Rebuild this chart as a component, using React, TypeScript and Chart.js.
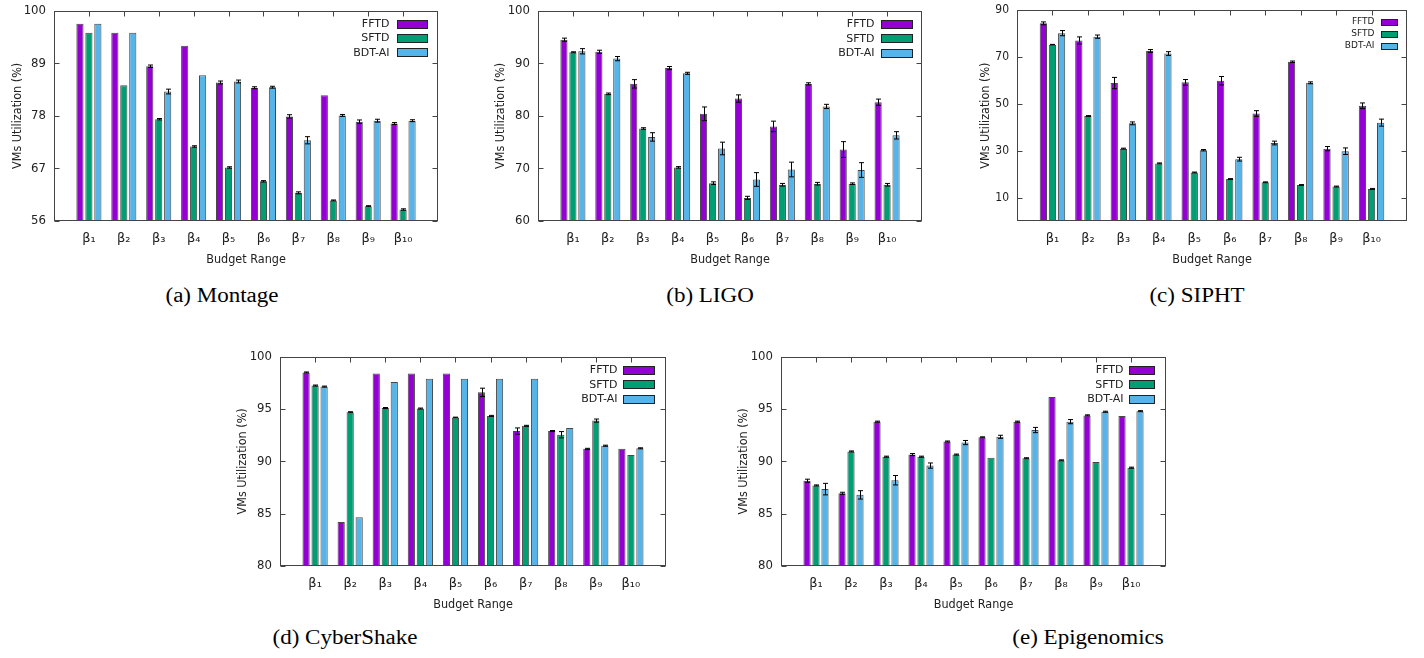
import { useEffect, useRef } from "react";
import { Chart, registerables } from "chart.js";

Chart.register(...registerables);

// ---------- data ----------
const budgetLabels = ["β₁", "β₂", "β₃", "β₄", "β₅", "β₆", "β₇", "β₈", "β₉", "β₁₀"];
const seriesNames = ["FFTD", "SFTD", "BDT-AI"];
const seriesColors = ["#9400D3", "#009E73", "#56B4E9"];

const montageFFTD = [97.3, 95.4, 88.4, 92.7, 85.0, 83.9, 77.9, 82.3, 76.8, 76.4];
const montageFFTDErr = [0, 0, 0.25, 0, 0.3, 0.2, 0.35, 0, 0.35, 0.2];
const montageSFTD = [95.4, 84.4, 77.3, 71.6, 67.2, 64.3, 61.9, 60.3, 59.1, 58.4];
const montageSFTDErr = [0, 0, 0.15, 0.15, 0.15, 0.15, 0.2, 0.1, 0.1, 0.15];
const montageBDT = [97.3, 95.4, 83.1, 86.5, 85.2, 84.0, 72.9, 78.1, 77.0, 77.0];
const montageBDTErr = [0, 0, 0.5, 0, 0.3, 0.2, 0.75, 0.2, 0.3, 0.2];
const montageYTicks = [56, 67, 78, 89, 100];

const ligoFFTD = [94.5, 92.2, 86.1, 89.1, 80.4, 83.3, 78.0, 86.1, 73.6, 82.6];
const ligoFFTDErr = [0.3, 0.3, 0.8, 0.3, 1.3, 0.7, 1.0, 0.2, 1.5, 0.6];
const ligoSFTD = [92.1, 84.2, 77.6, 70.2, 67.2, 64.4, 66.9, 67.1, 67.1, 66.9];
const ligoSFTDErr = [0.1, 0.15, 0.15, 0.15, 0.25, 0.3, 0.25, 0.25, 0.15, 0.25];
const ligoBDT = [92.3, 90.9, 76.0, 88.1, 73.8, 67.9, 69.8, 81.8, 69.7, 76.3];
const ligoBDTErr = [0.5, 0.4, 0.8, 0.2, 1.2, 1.3, 1.4, 0.4, 1.4, 0.7];
const ligoYTicks = [60, 70, 80, 90, 100];

const siphtFFTD = [84.4, 77.1, 58.9, 72.6, 59.2, 59.9, 45.9, 68.0, 30.9, 49.2];
const siphtFFTDErr = [0.6, 1.5, 2.4, 0.6, 1.2, 1.8, 1.2, 0.3, 0.9, 1.2];
const siphtSFTD = [75.3, 44.8, 30.9, 24.6, 20.7, 17.9, 16.5, 15.4, 14.7, 13.7];
const siphtSFTDErr = [0.1, 0.2, 0.2, 0.2, 0.2, 0.2, 0.2, 0.15, 0.2, 0.2];
const siphtBDT = [80.2, 78.7, 41.7, 71.5, 30.2, 26.4, 33.3, 59.0, 29.8, 42.0];
const siphtBDTErr = [1.1, 0.7, 0.6, 0.8, 0.3, 0.8, 0.8, 0.4, 1.4, 1.5];
const siphtYTicks = [10, 30, 50, 70, 90];

const cyberFFTD = [98.5, 84.2, 98.4, 98.4, 98.4, 96.6, 92.9, 92.9, 91.2, 91.2];
const cyberFFTDErr = [0.05, 0, 0, 0, 0, 0.4, 0.3, 0.05, 0.05, 0];
const cyberSFTD = [97.25, 94.7, 95.1, 95.05, 94.2, 94.35, 93.4, 92.55, 93.9, 90.6];
const cyberSFTDErr = [0.05, 0.05, 0.05, 0.05, 0.03, 0.05, 0.05, 0.3, 0.15, 0];
const cyberBDT = [97.15, 84.65, 97.6, 97.9, 97.9, 97.9, 97.9, 93.2, 91.5, 91.25];
const cyberBDTErr = [0.05, 0, 0, 0, 0, 0, 0, 0, 0.05, 0.05];
const cyberYTicks = [80, 85, 90, 95, 100];

const epiFFTD = [88.15, 86.95, 93.8, 90.65, 91.9, 92.3, 93.8, 96.15, 94.4, 94.35];
const epiFFTDErr = [0.15, 0.1, 0.05, 0.1, 0.05, 0.05, 0.05, 0, 0.05, 0];
const epiSFTD = [87.7, 90.95, 90.45, 90.45, 90.65, 90.35, 90.3, 90.1, 89.95, 89.4];
const epiSFTDErr = [0.05, 0.05, 0.05, 0.05, 0.05, 0, 0.05, 0.05, 0, 0.05];
const epiBDT = [87.35, 86.8, 88.2, 89.6, 91.8, 92.35, 93.0, 93.8, 94.75, 94.8];
const epiBDTErr = [0.55, 0.4, 0.45, 0.25, 0.2, 0.15, 0.25, 0.2, 0.05, 0.05];
const epiYTicks = [80, 85, 90, 95, 100];

const xTitle = "Budget Range";
const yTitle = "VMs Utilization (%)";

// ---------- layout ----------
type LegendStyle = { font: number; offset: number; rowH: number; sw: number; sh: number; right: number; gap: number };
type Panel = {
  caption: string;
  capX: number;
  capTop: number;
  L: number; T: number; R: number; B: number;
  yMin: number; yMax: number; yTicks: number[];
  values: number[][];
  errors: number[][];
  yTitleOff: number;
  yTickSize: number;
  legend: LegendStyle;
};

const panels: Panel[] = [
  {
    caption: "(a) Montage", capX: 222, capTop: 285,
    L: 54, T: 7, R: 438, B: 221, yMin: 56, yMax: 100, yTicks: montageYTicks,
    values: [montageFFTD, montageSFTD, montageBDT], errors: [montageFFTDErr, montageSFTDErr, montageBDTErr],
    yTitleOff: 36, yTickSize: 13, legend: { font: 11, offset: 13, rowH: 14.3, sw: 30, sh: 8, right: 11, gap: 8 },
  },
  {
    caption: "(b) LIGO", capX: 710, capTop: 285,
    L: 538, T: 7, R: 922, B: 221, yMin: 60, yMax: 100, yTicks: ligoYTicks,
    values: [ligoFFTD, ligoSFTD, ligoBDT], errors: [ligoFFTDErr, ligoSFTDErr, ligoBDTErr],
    yTitleOff: 37, yTickSize: 13, legend: { font: 11, offset: 13, rowH: 14.5, sw: 31, sh: 8, right: 10, gap: 7 },
  },
  {
    caption: "(c) SIPHT", capX: 1197, capTop: 285,
    L: 1017, T: 7, R: 1407, B: 221, yMin: 0, yMax: 90, yTicks: siphtYTicks,
    values: [siphtFFTD, siphtSFTD, siphtBDT], errors: [siphtFFTDErr, siphtSFTDErr, siphtBDTErr],
    yTitleOff: 31, yTickSize: 12, legend: { font: 9, offset: 11.3, rowH: 12, sw: 16, sh: 6, right: 10, gap: 7 },
  },
  {
    caption: "(d) CyberShake", capX: 345, capTop: 627,
    L: 280, T: 353, R: 666, B: 566, yMin: 80, yMax: 100, yTicks: cyberYTicks,
    values: [cyberFFTD, cyberSFTD, cyberBDT], errors: [cyberFFTDErr, cyberSFTDErr, cyberBDTErr],
    yTitleOff: 37.5, yTickSize: 13, legend: { font: 11, offset: 12.7, rowH: 14.7, sw: 31, sh: 8, right: 12, gap: 6 },
  },
  {
    caption: "(e) Epigenomics", capX: 1088, capTop: 627,
    L: 781, T: 353, R: 1166, B: 566, yMin: 80, yMax: 100, yTicks: epiYTicks,
    values: [epiFFTD, epiSFTD, epiBDT], errors: [epiFFTDErr, epiSFTDErr, epiBDTErr],
    yTitleOff: 37, yTickSize: 13, legend: { font: 11, offset: 12.7, rowH: 14.7, sw: 25, sh: 8, right: 12, gap: 6 },
  },
];

const AX = 60; // y axis box width
const AH = 47; // x axis box height
const PT = 12; // top padding
const PR = 12; // right padding

const LABEL_FONT = '"DejaVu Sans Condensed", "DejaVu Sans", sans-serif';
const TICK_FONT = '"DejaVu Sans Condensed", "DejaVu Sans", sans-serif';
const XTICK_FONT = '"DejaVu Sans", sans-serif';
const LEGEND_FONT = '"DejaVu Sans", sans-serif';
const TEXT = "#222";
const FRAME = "#444";

function ChartPanel({ p }: { p: Panel }) {
  const ref = useRef<HTMLCanvasElement | null>(null);
  const w = AX + (p.R - p.L) + PR;
  const h = PT + (p.B - p.T) + AH;

  useEffect(() => {
    const canvas = ref.current;
    if (!canvas) return;

    const errorPlugin = {
      id: "errbars",
      afterDatasetsDraw(chart: any) {
        const { ctx } = chart;
        const ys = chart.scales.y;
        ctx.save();
        ctx.strokeStyle = "#000";
        ctx.lineWidth = 1;
        chart.data.datasets.forEach((ds: any, di: number) => {
          const meta = chart.getDatasetMeta(di);
          meta.data.forEach((bar: any, j: number) => {
            const e = ds.errors[j];
            if (!e) return;
            const v = ds.data[j].y;
            const x = Math.round(bar.x) + 0.5;
            const yt = ys.getPixelForValue(v + e);
            const yb = ys.getPixelForValue(v - e);
            ctx.beginPath();
            ctx.moveTo(x, yt);
            ctx.lineTo(x, yb);
            ctx.moveTo(x - 2.5, yt);
            ctx.lineTo(x + 2.5, yt);
            ctx.moveTo(x - 2.5, yb);
            ctx.lineTo(x + 2.5, yb);
            ctx.stroke();
          });
        });
        ctx.restore();
      },
    };

    const framePlugin = {
      id: "frame",
      afterDatasetsDraw(chart: any) {
        const { ctx, chartArea: a } = chart;
        const xs = chart.scales.x;
        const ys = chart.scales.y;
        const l = Math.round(a.left) + 0.5;
        const r = Math.round(a.right) - 0.5;
        const t = Math.round(a.top) + 0.5;
        const b = Math.round(a.bottom) - 0.5;
        ctx.save();
        ctx.strokeStyle = FRAME;
        ctx.lineWidth = 1;
        ctx.beginPath();
        ys.ticks.forEach((tk: any) => {
          const py = Math.round(ys.getPixelForValue(tk.value)) + 0.5;
          ctx.moveTo(l, py);
          ctx.lineTo(l + 5, py);
          ctx.moveTo(r - 5, py);
          ctx.lineTo(r, py);
        });
        xs.ticks.forEach((tk: any) => {
          const px = Math.round(xs.getPixelForValue(tk.value)) + 0.5;
          ctx.moveTo(px, t);
          ctx.lineTo(px, t + 5);
        });
        ctx.stroke();
        ctx.strokeRect(l, t, r - l, b - t);
        ctx.restore();
      },
    };

    const legendPlugin = {
      id: "boxlegend",
      afterDraw(chart: any) {
        const { ctx, chartArea: a } = chart;
        const lg = p.legend;
        ctx.save();
        ctx.font = `${lg.font}px ${LEGEND_FONT}`;
        ctx.textAlign = "right";
        ctx.textBaseline = "middle";
        chart.data.datasets.forEach((ds: any, k: number) => {
          const cy = a.top + lg.offset + k * lg.rowH;
          const sx = Math.round(a.right - lg.right - lg.sw) + 0.5;
          const sy = Math.round(cy - lg.sh / 2) + 0.5;
          ctx.fillStyle = ds.backgroundColor;
          ctx.fillRect(sx, sy, lg.sw, lg.sh);
          ctx.strokeStyle = "#222";
          ctx.lineWidth = 1;
          ctx.strokeRect(sx, sy, lg.sw, lg.sh);
          ctx.fillStyle = TEXT;
          ctx.fillText(ds.label, sx - lg.gap, cy + 0.5);
        });
        ctx.restore();
      },
    };

    const titleLH = 12.5 * 1.2;
    const chart = new Chart(canvas, {
      type: "bar",
      data: {
        datasets: seriesNames.map((name, k) => ({
          label: name,
          data: p.values[k].map((v, i) => ({ x: i, y: v })),
          errors: p.errors[k],
          backgroundColor: seriesColors[k],
          borderColor: "rgba(40,40,40,0.85)",
          borderWidth: 1,
          categoryPercentage: 0.77,
          barPercentage: 0.8,
        })) as any,
      },
      options: {
        animation: false,
        responsive: false,
        maintainAspectRatio: false,
        events: [],
        layout: { padding: { top: PT, right: PR, left: 0, bottom: 0 } },
        plugins: { legend: { display: false }, tooltip: { enabled: false } },
        scales: {
          x: {
            type: "linear",
            min: -1,
            max: 10,
            offset: false,
            grid: { display: false, drawTicks: false },
            border: { display: false },
            afterBuildTicks: (s: any) => {
              s.ticks = budgetLabels.map((_, i) => ({ value: i }));
            },
            afterFit: (s: any) => {
              s.height = AH;
            },
            ticks: {
              autoSkip: false,
              maxRotation: 0,
              minRotation: 0,
              padding: 10,
              color: TEXT,
              font: { family: XTICK_FONT, size: 13 },
              callback: (_v: any, i: number) => budgetLabels[i],
            },
            title: {
              display: true,
              text: xTitle,
              color: TEXT,
              font: { family: LABEL_FONT, size: 12.5 },
              padding: { top: 0, bottom: 0.5 },
            },
          },
          y: {
            type: "linear",
            min: p.yMin,
            max: p.yMax,
            grid: { display: false, drawTicks: false },
            border: { display: false },
            afterBuildTicks: (s: any) => {
              s.ticks = p.yTicks.map((v) => ({ value: v }));
            },
            afterFit: (s: any) => {
              s.width = AX;
            },
            ticks: {
              padding: 8,
              color: TEXT,
              font: { family: TICK_FONT, size: p.yTickSize },
            },
            title: {
              display: true,
              text: yTitle,
              color: TEXT,
              font: { family: LABEL_FONT, size: 12.5 },
              padding: { top: AX - p.yTitleOff - titleLH / 2, bottom: 0 },
            },
          },
        },
      } as any,
      plugins: [errorPlugin, framePlugin, legendPlugin],
    });
    return () => chart.destroy();
  }, [p]);

  return (
    <canvas
      ref={ref}
      width={w}
      height={h}
      style={{
        position: "absolute",
        left: p.L - AX,
        top: p.T - PT,
        width: w,
        height: h,
      }}
    />
  );
}

export default function App() {
  return (
    <div
      style={{
        position: "absolute",
        left: 0,
        top: 0,
        width: 1424,
        height: 658,
        background: "#fff",
        overflow: "hidden",
      }}
    >
      {panels.map((p) => (
        <ChartPanel key={p.caption} p={p} />
      ))}
      {panels.map((p) => (
        <div
          key={"cap" + p.caption}
          style={{
            position: "absolute",
            left: p.capX - 200,
            top: p.capTop,
            width: 400,
            textAlign: "center",
            fontFamily: '"Liberation Serif", "Times New Roman", serif',
            fontSize: 20,
            lineHeight: "20px",
            color: "#000",
            transform: "scaleX(1.15)",
            whiteSpace: "nowrap",
          }}
        >
          {p.caption}
        </div>
      ))}
    </div>
  );
}
